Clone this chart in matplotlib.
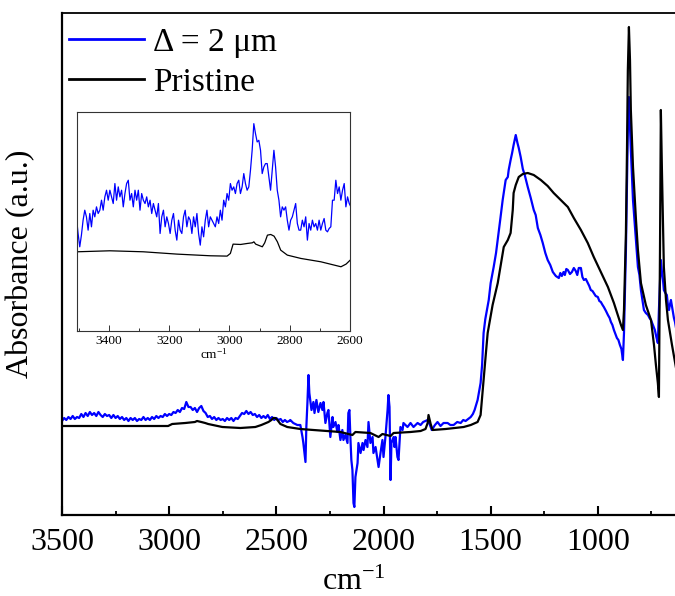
import numpy as np
import matplotlib
matplotlib.use("Agg")
import matplotlib.pyplot as plt
from matplotlib.ticker import MultipleLocator

plt.rcParams['font.family'] = ['Liberation Serif', 'DejaVu Serif']
plt.rcParams['mathtext.fontset'] = 'custom'
plt.rcParams['mathtext.rm'] = 'Liberation Serif'
plt.rcParams['mathtext.it'] = 'Liberation Serif:italic'

# ---------------- main spectrum: "Δ = 2 μm" (blue) ----------------
# baseline part 3500-2440 cm-1 sampled every 10 cm-1
blue_base_range = (3500, 2440)
blue_base_abs = [94, 97, 95, 98, 96, 99, 96, 98, 97, 101, 98, 102, 99, 103, 100, 102, 99, 103, 100, 98,
                 101, 99, 100, 97, 100, 97, 99, 96, 98, 95, 97, 94, 97, 95, 97, 94, 96, 95, 98, 95,
                 97, 95, 98, 96, 99, 97, 99, 98, 101, 99, 101, 100, 103, 102, 105, 103, 107, 106, 113, 108,
                 108, 105, 107, 103, 107, 109, 104, 102, 98, 99, 96, 98, 95, 97, 95, 96, 94, 97, 95, 97,
                 94, 97, 96, 99, 102, 101, 104, 101, 103, 100, 101, 98, 100, 97, 99, 97, 100, 96, 98, 95,
                 97, 95, 96, 93, 95, 93, 94]
# rest of spectrum 2435-636 cm-1
blue_wn = [2435, 2421, 2402, 2388, 2378, 2374, 2364, 2360, 2355, 2350, 2346, 2336, 2327, 2322, 2313,
           2304, 2294, 2285, 2280, 2271, 2262, 2257, 2248, 2238, 2234, 2224, 2215, 2210, 2201, 2192,
           2187, 2178, 2168, 2164, 2159, 2154, 2150, 2145, 2140, 2136, 2131, 2121, 2117, 2107, 2098,
           2093, 2084, 2075, 2070, 2061, 2051, 2047, 2037, 2028, 2023, 2014, 2005, 2000, 1991, 1981,
           1977, 1972, 1967, 1963, 1953, 1949, 1944, 1935, 1930, 1921, 1911, 1907, 1888, 1874, 1860,
           1841, 1827, 1815, 1804, 1794, 1785, 1775, 1760, 1748, 1734, 1720, 1701, 1688, 1673, 1656,
           1640, 1628, 1617, 1605, 1593, 1583, 1575, 1561, 1547, 1540,
           1533, 1525, 1509, 1500, 1486, 1475, 1463, 1455, 1444, 1430, 1420, 1416, 1407, 1400, 1393, 1383,
           1375, 1369, 1360, 1350, 1341, 1327, 1313, 1299, 1290, 1280, 1268, 1257, 1245, 1234, 1222,
           1210, 1196, 1182, 1175, 1168, 1160, 1154, 1147, 1140, 1130, 1121, 1112, 1103, 1096, 1089,
           1079, 1072, 1065, 1056, 1047, 1040, 1033, 1025, 1019, 1010, 1000, 993, 986, 978, 972,
           962, 953, 945, 939, 932, 925, 918, 911, 904, 897, 890, 883, 878, 869, 860,
           855, 846, 836, 822, 813, 806, 799, 792, 785, 776, 766, 759, 752, 743, 734, 727, 720, 715,
           706, 701, 696, 692, 685, 678, 673, 668, 664, 659, 652, 645, 640, 636]
blue_abs = [95, 92, 90, 90, 78, 72, 53, 88, 112, 140, 122, 105, 113, 102, 115,
            103, 112, 105, 113, 92, 102, 105, 78, 98, 88, 93, 83, 90, 75, 85,
            75, 80, 72, 102, 105, 75, 55, 45, 12, 8, 38, 52, 72, 62, 72,
            65, 75, 68, 93, 72, 78, 62, 68, 55, 48, 62, 75, 58, 78, 105,
            120, 108, 35, 72, 78, 68, 78, 58, 55, 88, 85, 92, 88, 92, 88,
            92, 90, 93, 94, 95, 91, 85, 90, 93, 89, 92, 92, 90, 90, 93,
            92, 95, 94, 96, 98, 101, 105, 115, 132, 150,
            182, 196, 215, 232, 248, 262, 282, 296, 315, 335, 338, 345, 355, 362, 370, 380,
            372, 367, 358, 346, 340, 328, 317, 305, 300, 287, 280, 272, 262, 255, 250,
            243, 239, 237, 242, 239, 243, 240, 246, 245, 241, 243, 247, 244, 240, 247,
            247, 238, 235, 236, 232, 229, 225, 224, 222, 219, 218, 214, 213, 210, 208,
            204, 200, 197, 193, 190, 185, 181, 177, 175, 170, 166, 155, 182, 265, 385,
            418, 365, 315, 275, 248, 240, 225, 215, 205, 202, 200, 197, 195, 190, 185, 178, 172, 205,
            255, 243, 235, 225, 222, 220, 210, 205, 210, 215, 206, 197, 193, 188]

# ---------------- main spectrum: Pristine (black) ----------------
black_wn = [3500, 3322, 3182, 3033, 3005, 2986, 2925, 2880, 2870, 2850, 2832, 2818, 2752, 2668, 2598,
            2570, 2537, 2523, 2514, 2505, 2495, 2481, 2449, 2388, 2327, 2201, 2145, 2131, 2061, 2023,
            2005, 1967, 1953, 1874, 1827, 1804, 1794, 1790, 1780, 1771, 1710, 1626, 1593, 1561, 1547,
            1537, 1523, 1514,
            1491, 1467, 1453, 1439, 1420, 1407, 1397, 1393, 1383, 1369, 1350, 1327, 1299, 1266, 1234,
            1206, 1173, 1140, 1112, 1079, 1047, 1019, 986, 953, 939, 925, 907, 892, 883, 878,
            869, 864, 860, 855, 850, 846, 836, 822, 813, 799, 776, 752, 738, 729, 720,
            715, 710, 706, 701, 692, 682, 673, 654, 636]
black_abs = [89, 89, 89, 89, 89, 91, 92, 93, 94, 93, 92, 91, 88, 87, 88,
             90, 93, 95, 97, 97, 95, 91, 88, 86, 85, 83, 80, 83, 82, 78,
             81, 79, 82, 83, 84, 86, 92, 100, 91, 85, 86, 88, 90, 93, 100,
             125, 160, 182,
             210, 232, 250, 268, 275, 282, 305, 322, 330, 338, 341, 342, 340, 335, 329,
             322, 315, 308, 297, 285, 272, 258, 243, 228, 220, 212, 200, 190, 185, 205,
             282, 365, 445, 488, 455, 405, 348, 295, 265, 232, 210, 195, 170, 150, 132,
             118, 265, 405, 345, 248, 215, 195, 170, 148]

# ---------------- inset data (3508-2597 cm-1) ----------------
inset_blue_abs = [343, 293, 253, 288, 333, 363, 343, 303, 353, 313, 363, 343, 373, 353, 363,
                  393, 363, 403, 423, 393, 423, 403, 383, 443, 393, 433, 403, 423, 373, 413,
                  443, 453, 393, 413, 373, 423, 393, 423, 363, 413, 393, 383, 403, 373, 393,
                  353, 383, 363, 343, 383, 293, 343, 363, 313, 343, 323, 293, 333, 353, 303,
                  273, 333, 303, 293, 343, 363, 313, 343, 333, 293, 343, 313, 353, 293, 258,
                  313, 283, 333, 363, 313, 343, 333, 323, 313, 343, 323, 363, 333, 393, 373,
                  413, 393, 443, 423, 433, 413, 443, 453, 413, 433, 473, 443, 423, 433, 483,
                  543, 623, 593, 568, 573, 543, 473, 493, 503, 503, 463, 423, 483, 543, 493,
                  423, 393, 343, 373, 363, 373, 333, 303, 333, 343, 363, 383, 323, 303, 303,
                  333, 313, 343, 273, 323, 303, 333, 313, 323, 303, 333, 303, 323, 338, 303,
                  298, 308, 313, 393, 393, 453, 413, 433, 393, 423, 443, 373, 403, 383, 373]
inset_blue_range = (3508, 2597)

inset_black_wn = [3506, 3397, 3286, 3174, 3063, 3008, 2997, 2988, 2963, 2941, 2924, 2919, 2913,
                  2891, 2883, 2874, 2863, 2852, 2841, 2830, 2808, 2763, 2697, 2630, 2613, 2597]
inset_black_abs = [238, 241, 238, 231, 226, 225, 233, 261, 260, 263, 265, 268, 261,
                   253, 265, 288, 290, 285, 268, 243, 228, 218, 208, 193, 201, 215]

BLUE = '#0000FF'
FS = 23

fig = plt.figure(figsize=(6.75, 5.96), dpi=100)
ax = fig.add_axes([62/675, 1-515/596, 1-62/675, (515-13)/596])

base_wn = np.linspace(blue_base_range[0], blue_base_range[1], len(blue_base_abs))
all_blue_wn = np.concatenate([base_wn, blue_wn])
all_blue_abs = np.concatenate([blue_base_abs, blue_abs])
ax.plot(all_blue_wn, all_blue_abs, color=BLUE, lw=1.6, label='Δ = 2 μm')
ax.plot(black_wn, black_abs, color='black', lw=1.6, label='Pristine')
ax.set_xlim(3500, 640)
ax.set_ylim(0, 502)
ax.spines['right'].set_visible(False)
for s in ['left', 'bottom']:
    ax.spines[s].set_linewidth(1.6)
ax.spines['top'].set_linewidth(1.3)
ax.set_yticks([])
ax.xaxis.set_major_locator(MultipleLocator(500))
ax.xaxis.set_minor_locator(MultipleLocator(250))
ax.tick_params(axis='x', which='major', direction='in', length=6.5, width=1.5,
               labelsize=FS, pad=9)
ax.tick_params(axis='x', which='minor', direction='in', length=3.2, width=1.3)
ax.set_xlabel('cm$^{-1}$', fontsize=FS)
ax.xaxis.set_label_coords(0.476, -0.105)
ax.set_ylabel('Absorbance (a.u.)', fontsize=FS)
ax.yaxis.set_label_coords(-0.043, 0.5)

leg = ax.legend(loc='upper left', bbox_to_anchor=(69/675, 1-27/596), bbox_transform=fig.transFigure,
                frameon=False, fontsize=24, handlelength=2.25, handletextpad=0.27,
                borderpad=0, borderaxespad=0, labelspacing=0.3)
for l in leg.get_lines():
    l.set_linewidth(2)

# ---------------- inset ----------------
ins = fig.add_axes([77/675, 1-331/596, (350-77)/675, (331-112)/596])
ins_wn = np.linspace(inset_blue_range[0], inset_blue_range[1], len(inset_blue_abs))
ins.plot(ins_wn, inset_blue_abs, color=BLUE, lw=0.9)
ins.plot(inset_black_wn, inset_black_abs, color='black', lw=0.9)
ins.set_xlim(3506, 2600)
ins.set_ylim(0, 658)
ins.set_yticks([])
for s in ins.spines.values():
    s.set_linewidth(0.8)
    s.set_color('#333333')
ins.xaxis.set_major_locator(MultipleLocator(200))
ins.xaxis.set_minor_locator(MultipleLocator(100))
ins.tick_params(axis='x', which='major', direction='in', length=4, width=0.7,
                labelsize=9.6, pad=3, color='#333333')
ins.tick_params(axis='x', which='minor', direction='in', length=2.5, width=0.7, color='#333333')
ins.set_xlabel('cm$^{-1}$', fontsize=9.6, labelpad=0)

fig.savefig('out.png', dpi=100)
